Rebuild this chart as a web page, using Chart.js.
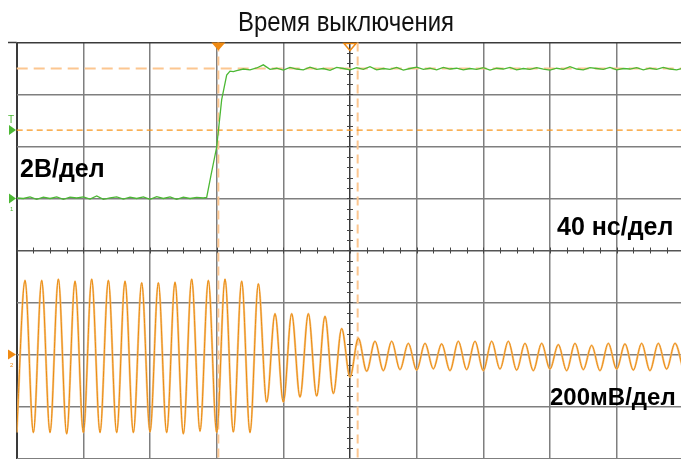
<!DOCTYPE html>
<html>
<head>
<meta charset="utf-8">
<script src="https://cdn.jsdelivr.net/npm/chart.js@4"></script>
<style>
  html, body { margin: 0; padding: 0; background: #fff; overflow: hidden; }
  #wrap { width: 690px; height: 459px; }
</style>
</head>
<body>
<div id="wrap"><canvas id="scope" width="690" height="459"></canvas></div>
<script>
// заголовок и подписи
const chartTitle = 'Время выключения';
const ch1Label = '2В/дел';
const timeLabel = '40 нс/дел';
const ch2Label = '200мВ/дел';

// шкалы: 40 нс/дел, 2 В/дел, 200 мВ/дел
const timeMin = -120, timeMax = 280, timeStep = 40;
const ch1Min = -10, ch1Max = 6, ch1Step = 2;
const ch2Min = -400, ch2Max = 1200;

// курсоры
const cursorTimes = [1, 84.6];      // нс
const cursorLevel = 5.0;            // В
const triggerLevel = 2.63;          // В

// канал 1 (зелёный), время в нс, напряжение в В
const ch1Time = [
  -120,-116,-112,-108,-104,-100,-96,-92,-88,-84,-80,-76,-72,-68,-64,-60,-56,-52,-48,-44,-40,-36,-32,-28,-24,-20,-16,-12,-8,
  -6,-3.4,0,3,6,8,10,
  12,16,20,24,28,32,36,40,44,48,52,56,60,64,68,72,76,80,84,88,92,96,100,104,108,112,116,120,124,128,132,136,
  140,144,148,152,156,160,164,168,172,176,180,184,188,192,196,200,204,208,212,216,220,224,228,232,236,240,244,248,
  252,256,260,264,268,272,276,280
];
const ch1Volt = [
  0.02,0,0.06,-0.03,0.05,0,0.06,-0.03,0.05,0.02,
  0.06,-0.02,0.1,-0.03,0.02,0.06,-0.02,0.05,0,0.06,
  -0.03,0.07,0,0.06,-0.03,0.05,0,0.04,0.02,
  0.04,0.9,1.98,3.8,4.75,4.9,4.88,
  4.92,4.98,4.95,5.02,5.14,4.97,5.01,4.94,5.04,4.98,
  4.95,5.05,4.97,5.0,4.93,5.04,5.0,4.95,5.03,4.97,
  5.07,4.95,5.0,4.97,5.04,4.94,5.0,5.05,4.97,5.01,
  4.95,5.04,4.98,5.01,4.95,5.0,4.97,5.03,4.94,5.01,
  4.98,5.04,4.95,5.0,4.97,5.03,4.98,4.94,5.01,4.97,
  5.07,4.98,4.95,5.03,5.0,4.97,5.04,4.95,5.0,4.98,
  5.03,4.95,5.01,4.97,5.04,4.98,4.95,5.01
];

// канал 2 (оранжевый): пики и впадины, время в нс, напряжение в мВ
const ch2Time = [
  -120,-115,-110,-105,-100,-95,-90,-85,-80,-75,-70,-65,-60,-55,-50,-45,-40,-35,-30,-25,
  -20,-15,-10,-5,0,5,10,15,20,25,
  30,35,40,45,50,55,60,65,70,75,80,85,90,95,100,105,110,115,120,125,
  130,135,140,145,150,155,160,165,170,175,180,185,190,195,200,205,210,215,220,225,
  230,235,240,245,250,255,260,265,270,275,280
];
const ch2MilliVolt = [
  -300,285,-300,285,-300,290,-305,282,-300,290,-300,285,-300,282,-300,276,-298,276,-300,278,
  -305,290,-295,285,-300,290,-298,282,-300,272,
  -183,157,-183,157,-164,157,-160,147,-150,100,-87,62,-64,51,-62,51,-58,43,-60,43,
  -55,41,-62,51,-58,51,-62,51,-56,51,-60,43,-62,43,-56,38,-62,43,-58,35,
  -62,43,-56,41,-60,43,-62,43,-56,43,-60
];

const ch1Points = ch1Time.map((t, i) => ({ x: t, y: ch1Volt[i] }));
const ch2Points = ch2Time.map((t, i) => ({ x: t, y: ch2MilliVolt[i] }));

const GRID = '#7f7f7f';
const DARK = '#3a3a3a';
const ORANGE = '#f08a12';
const PEACH = '#fcc690';
const GREEN = '#4cb834';

function tri(ctx, pts, fill, stroke) {
  ctx.beginPath();
  ctx.moveTo(pts[0][0], pts[0][1]);
  ctx.lineTo(pts[1][0], pts[1][1]);
  ctx.lineTo(pts[2][0], pts[2][1]);
  ctx.closePath();
  if (fill) { ctx.fillStyle = fill; ctx.fill(); }
  if (stroke) { ctx.strokeStyle = stroke; ctx.lineWidth = 1.5; ctx.stroke(); }
}

// сетка осциллографа, курсоры, метки и подписи
const scopeDecor = {
  id: 'scopeDecor',
  beforeDatasetsDraw(chart) {
    const { ctx, chartArea: a, scales } = chart;
    const xs = scales.x, ys = scales.y;
    const cx = xs.getPixelForValue((timeMin + timeMax) / 2);
    const cy = ys.getPixelForValue((ch1Min + ch1Max) / 2);
    ctx.save();
    // верхняя рамка чуть левее поля
    ctx.strokeStyle = DARK;
    ctx.lineWidth = 1.5;
    ctx.beginPath(); ctx.moveTo(8, a.top); ctx.lineTo(a.left, a.top); ctx.stroke();
    // мелкие деления на центральных линиях
    ctx.strokeStyle = '#444';
    ctx.lineWidth = 1;
    for (let t = timeMin; t <= timeMax; t += timeStep / 4) {
      const px = Math.round(xs.getPixelForValue(t)) + 0.5;
      ctx.beginPath(); ctx.moveTo(px, cy - 3); ctx.lineTo(px, cy + 3); ctx.stroke();
    }
    for (let v = ch1Min; v <= ch1Max; v += ch1Step / 5) {
      const py = Math.round(ys.getPixelForValue(v)) + 0.5;
      ctx.beginPath(); ctx.moveTo(cx - 3, py); ctx.lineTo(cx + 3, py); ctx.stroke();
    }
    // курсоры
    ctx.strokeStyle = PEACH;
    ctx.lineWidth = 2;
    ctx.setLineDash([9, 5]);
    cursorTimes.forEach(t => {
      const px = xs.getPixelForValue(t);
      ctx.beginPath(); ctx.moveTo(px, a.top); ctx.lineTo(px, a.bottom); ctx.stroke();
    });
    const ly = ys.getPixelForValue(cursorLevel);
    ctx.setLineDash([11, 6]);
    ctx.beginPath(); ctx.moveTo(a.left, ly); ctx.lineTo(a.right, ly); ctx.stroke();
    const ty = ys.getPixelForValue(triggerLevel);
    ctx.strokeStyle = '#f7961e';
    ctx.lineWidth = 1.3;
    ctx.setLineDash([6, 4]);
    ctx.beginPath(); ctx.moveTo(a.left, ty); ctx.lineTo(a.right, ty); ctx.stroke();
    ctx.restore();
  },
  afterDatasetsDraw(chart) {
    const { ctx, chartArea: a, scales } = chart;
    const xs = scales.x, ys = scales.y, y2 = scales.y2;
    ctx.save();
    // метка триггера сверху
    const tx = xs.getPixelForValue(cursorTimes[0]);
    tri(ctx, [[tx - 7, a.top], [tx + 7, a.top], [tx, a.top + 8]], ORANGE);
    const mx = xs.getPixelForValue((timeMin + timeMax) / 2);
    tri(ctx, [[mx - 6, a.top + 1], [mx + 6, a.top + 1], [mx, a.top + 8]], null, ORANGE);
    // метки слева
    const ty = ys.getPixelForValue(triggerLevel);
    tri(ctx, [[9, ty - 5], [9, ty + 5], [16, ty]], GREEN);
    const g1 = ys.getPixelForValue(0);
    tri(ctx, [[9, g1 - 5], [9, g1 + 5], [16, g1]], GREEN);
    const g2 = y2.getPixelForValue(0);
    tri(ctx, [[8, g2 - 5], [8, g2 + 5], [16, g2]], ORANGE);
    ctx.textAlign = 'left';
    ctx.textBaseline = 'alphabetic';
    ctx.fillStyle = GREEN;
    ctx.font = '10px "Liberation Sans", Arial, sans-serif';
    ctx.fillText('T', 8, ty - 7);
    ctx.font = '6px "Liberation Sans", Arial, sans-serif';
    ctx.fillText('1', 10, g1 + 12);
    ctx.fillStyle = ORANGE;
    ctx.fillText('2', 10, g2 + 12);
    // подписи масштабов
    ctx.fillStyle = '#000';
    ctx.font = 'bold 25px "Liberation Sans", Arial, sans-serif';
    ctx.fillText(ch1Label, 20, 177);
    ctx.fillText(timeLabel, 557, 235);
    ctx.font = 'bold 24px "Liberation Sans", Arial, sans-serif';
    ctx.fillText(ch2Label, 550, 405);
    // заголовок узким начертанием
    ctx.font = '28px "Liberation Sans", Arial, sans-serif';
    const w = ctx.measureText(chartTitle).width;
    ctx.fillStyle = '#111';
    ctx.textAlign = 'center';
    ctx.translate(346, 30.5);
    ctx.scale(216 / w, 1);
    ctx.fillText(chartTitle, 0, 0);
    ctx.restore();
  }
};

Chart.defaults.font.family = '"Liberation Sans", Arial, sans-serif';

new Chart(document.getElementById('scope'), {
  type: 'line',
  data: {
    datasets: [
      {
        label: 'CH1',
        data: ch1Points,
        yAxisID: 'y',
        borderColor: GREEN,
        borderWidth: 1.3,
        pointRadius: 0,
        tension: 0
      },
      {
        label: 'CH2',
        data: ch2Points,
        yAxisID: 'y2',
        borderColor: '#ea8c10',
        borderWidth: 1,
        pointRadius: 0,
        cubicInterpolationMode: 'monotone'
      },
      {
        label: 'CH2 glow',
        data: ch2Points,
        yAxisID: 'y2',
        borderColor: 'rgba(246,192,125,0.9)',
        borderWidth: 2.2,
        pointRadius: 0,
        cubicInterpolationMode: 'monotone'
      }
    ]
  },
  options: {
    responsive: false,
    animation: false,
    devicePixelRatio: 1,
    layout: { padding: { left: 16.7, right: 6.7, top: 42.5, bottom: 0.5 } },
    plugins: {
      legend: { display: false },
      tooltip: { enabled: false },
      title: { display: false }
    },
    scales: {
      x: {
        type: 'linear',
        min: timeMin,
        max: timeMax,
        ticks: { display: false, stepSize: timeStep },
        border: { display: false },
        grid: {
          drawTicks: false,
          color: c => (c.tick.value === timeMin || c.tick.value === (timeMin + timeMax) / 2) ? DARK : GRID,
          lineWidth: c => c.tick.value === timeMin ? 2 : 1.5
        }
      },
      y: {
        type: 'linear',
        min: ch1Min,
        max: ch1Max,
        ticks: { display: false, stepSize: ch1Step },
        border: { display: false },
        grid: {
          drawTicks: false,
          color: c => (c.tick.value === ch1Max) ? DARK : (c.tick.value === (ch1Min + ch1Max) / 2 ? '#555' : GRID),
          lineWidth: 1.5
        }
      },
      y2: {
        type: 'linear',
        min: ch2Min,
        max: ch2Max,
        display: false
      }
    }
  },
  plugins: [scopeDecor]
});
</script>
</body>
</html>
